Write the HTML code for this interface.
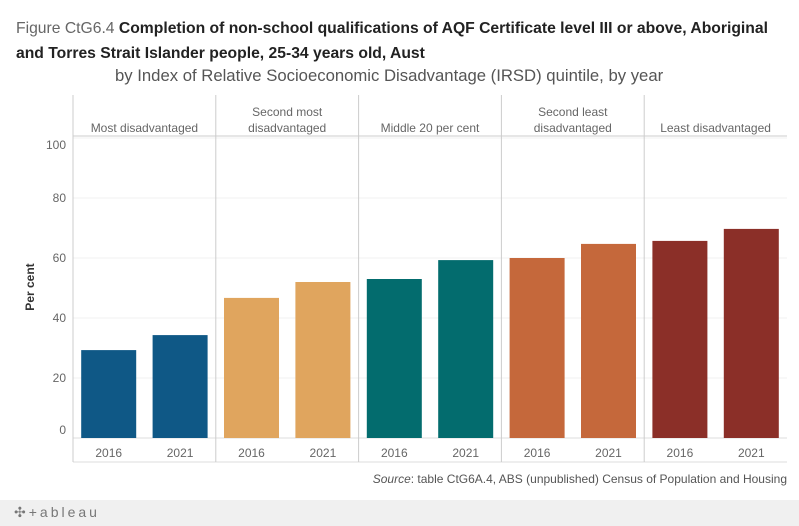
<!DOCTYPE html>
<html><head><meta charset="utf-8"><style>
body{margin:0;width:799px;height:526px;overflow:hidden;background:#fff;font-family:"Liberation Sans",sans-serif;}
.t{position:absolute;white-space:nowrap;color:#333;font-size:16px;}
</style></head><body>
<div class="t" style="left:16px;top:20px;font-size:15.7px;"><span style="color:#666">Figure CtG6.4 </span><b style="font-weight:600;color:#222">Completion of non-school qualifications of AQF Certificate level III or above, Aboriginal</b></div>
<div class="t" style="left:16px;top:45px;font-size:15.7px;"><b style="font-weight:600;color:#222">and Torres Strait Islander people, 25-34 years old, Aust</b></div>
<div class="t" style="left:115px;top:66px;color:#555;font-size:16.7px">by Index of Relative Socioeconomic Disadvantage (IRSD) quintile, by year</div>
<svg id="c" width="799" height="526" style="position:absolute;left:0;top:0"></svg>
<script>
const categories=["Most disadvantaged","Second most|disadvantaged","Middle 20 per cent","Second least|disadvantaged","Least disadvantaged"];
const years=["2016","2021"];
const values2016=[29.3,46.7,53,60,65.7];
const values2021=[34.3,52,59.3,64.7,69.7];
const colors=["#0f5886","#e0a55e","#036c6e","#c5683b","#8b2f28"];
const yTicks=[0,20,40,60,80,100];
const NS="http://www.w3.org/2000/svg",svg=document.getElementById('c');
function mk(t,a,txt){const e=document.createElementNS(NS,t);for(const k in a)e.setAttribute(k,a[k]);if(txt!==undefined)e.textContent=txt;svg.appendChild(e);return e;}
const x0=73,x1=787,pw=(x1-x0)/categories.length;
const y=v=>438-v*3;
yTicks.forEach(t=>{const g=mk('line',{x1:x0,x2:x1,y1:y(t),y2:y(t),stroke:t===0?'#ddd':'#f0f0f0'});

const ly=t===100?149:(t===0?434:y(t)+4);
const l=mk('text',{x:66,y:ly,'text-anchor':'end','font-size':12,fill:'#666','font-family':'Liberation Sans'},t);
});
const yt=mk('text',{x:34,y:287,'text-anchor':'middle','font-size':12,fill:'#333','font-weight':'bold',transform:'rotate(-90 34 287)','font-family':'Liberation Sans'},'Per cent');

mk('line',{x1:x0,x2:x1,y1:136,y2:136,stroke:'#ccc'});
mk('line',{x1:x0,x2:x1,y1:462,y2:462,stroke:'#ddd'});
categories.forEach((c,i)=>{
 const px=x0+i*pw;
 mk('line',{x1:px,x2:px,y1:95,y2:462,stroke:'#ccc'});
 const parts=c.split('|');
 parts.forEach((p,j)=>{const h=mk('text',{x:px+pw/2,y:132-(parts.length-1-j)*16,'text-anchor':'middle','font-size':12,fill:'#666','font-family':'Liberation Sans'},p);
 });
 [values2016[i],values2021[i]].forEach((v,k)=>{
  const cx=px+pw*(k===0?0.25:0.75);
  const b=mk('rect',{x:cx-27.5,y:y(v),width:55,height:y(0)-y(v),fill:colors[i]});
  
  const l=mk('text',{x:cx,y:457,'text-anchor':'middle','font-size':12,fill:'#666','font-family':'Liberation Sans'},years[k]);
  
 });
});
</script>
<div class="t" style="right:12px;top:472px;font-size:12px;color:#555"><i>Source</i>: table CtG6A.4, ABS (unpublished) Census of Population and Housing</div>
<div style="position:absolute;left:0;top:500px;width:799px;height:26px;background:#f0f0f0"></div>
<div class="t" style="left:14px;top:504px;font-size:14px;color:#777;letter-spacing:3px">✣+ableau</div>
</body></html>
